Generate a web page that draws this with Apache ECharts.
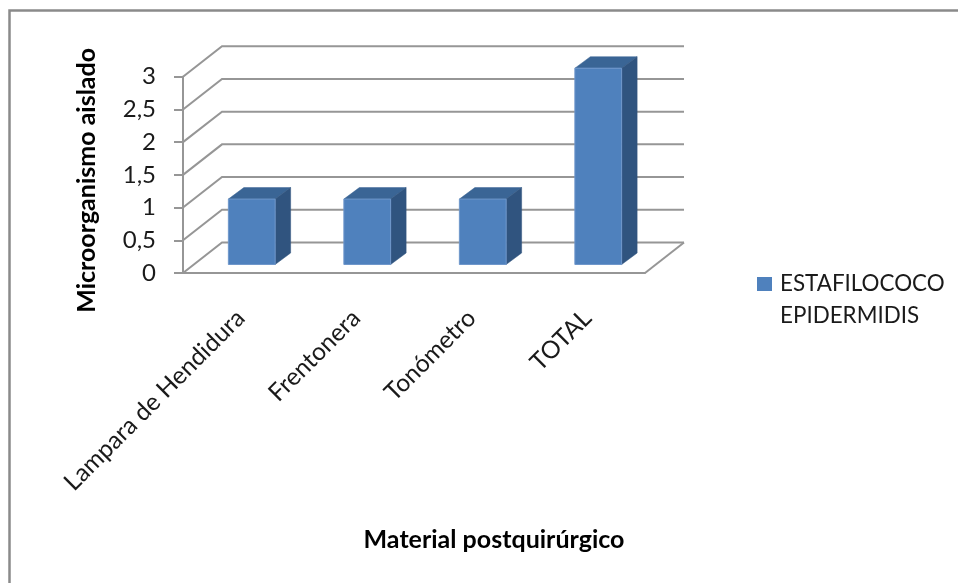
<!DOCTYPE html>
<html>
<head>
<meta charset="utf-8">
<style>html,body{margin:0;padding:0;background:#fff}#chart{width:958px;height:583px}</style>
<script src="https://cdn.jsdelivr.net/npm/echarts@6/dist/echarts.min.js"></script>
</head>
<body>
<div id="chart"></div>
<script>
const categories = ['Lampara de Hendidura', 'Frentonera', 'Tonómetro', 'TOTAL'];
const seriesName = 'ESTAFILOCOCO\nEPIDERMIDIS';
const seriesValues = [1, 1, 1, 3];
const wallTicks = [0, 0.5, 1, 1.5, 2, 2.5, 3];

const FONT = 'Lato, "Open Sans", sans-serif';
const WALL_DX = 39, WALL_DY = 30.5;   // oblique depth of the chart box
const BAR_DX = 15.5, BAR_DY = 11.5;   // oblique depth of one column
const BAR_SHIFT_DX = 11, BAR_SHIFT_DY = 8.5;   // columns stand inside the floor
const GRID_COLOR = '#969696';

function renderWall(params, api) {
  const value = api.value(0);
  const [mid, y] = api.coord([0, value]);
  const band = api.size([1, 0])[0];
  const x0 = mid - band / 2;
  const x1 = x0 + band * categories.length;
  const children = [{
    type: 'polyline',
    shape: { points: [[x0, y], [x0 + WALL_DX, y - WALL_DY], [x1 + WALL_DX, y - WALL_DY]] },
    style: { stroke: GRID_COLOR, lineWidth: 2, fill: null }
  }];
  if (value === 0) {
    children.push({
      type: 'line',
      shape: { x1: x1, y1: y, x2: x1 + WALL_DX, y2: y - WALL_DY },
      style: { stroke: GRID_COLOR, lineWidth: 2 }
    });
  }
  return { type: 'group', children };
}

function renderColumn(params, api) {
  const idx = api.value(0);
  const [cx, top] = api.coord([idx, api.value(1)]);
  const [, base] = api.coord([idx, 0]);
  const w = api.size([1, 0])[0] * 0.405;
  const l = cx - w / 2 + BAR_SHIFT_DX;
  const r = l + w;
  const t = top - BAR_SHIFT_DY;
  const b = base - BAR_SHIFT_DY;
  const poly = (points, fill) => ({ type: 'polygon', shape: { points }, style: { fill, stroke: fill, lineWidth: 0.5 } });
  return {
    type: 'group',
    children: [
      poly([[l, t], [l + BAR_DX, t - BAR_DY], [r + BAR_DX, t - BAR_DY], [r, t]], '#3a6595'),
      poly([[r, t], [r + BAR_DX, t - BAR_DY], [r + BAR_DX, b - BAR_DY], [r, b]], '#30547f'),
      { type: 'rect', shape: { x: l, y: t, width: w, height: b - t }, style: { fill: '#4f81bd', stroke: '#6f97cb', lineWidth: 1 } }
    ]
  };
}

const chart = echarts.init(document.getElementById('chart'), null, { renderer: 'canvas' });
chart.setOption({
  animation: false,
  backgroundColor: '#fff',
  textStyle: { fontFamily: FONT },
  graphic: [{
    type: 'rect', z: -1, silent: true,
    shape: { x: 9.5, y: 10.5, width: 960, height: 600 },
    style: { fill: 'none', stroke: '#8a8a8a', lineWidth: 2.5 }
  }],
  grid: { left: 183, top: 76.7, width: 462, height: 196.3 },
  legend: {
    left: 757, top: 268, orient: 'vertical', padding: 0,
    itemWidth: 15, itemHeight: 46, itemGap: 0,
    icon: 'path://M0 0H15V14H0Z M0 46H15V46H0Z',
    data: [seriesName],
    textStyle: { fontFamily: FONT, fontSize: 22.4, lineHeight: 32, color: '#1a1a1a', padding: [0, 0, 0, 3] }
  },
  xAxis: {
    type: 'category',
    data: categories,
    name: 'Material postquirúrgico',
    nameLocation: 'middle',
    nameGap: 254,
    nameMoveOverlap: false,
    nameTextStyle: { fontFamily: FONT, fontSize: 25, fontWeight: 'bold', color: '#000', padding: [0, 0, 0, 160] },
    axisLine: { lineStyle: { color: GRID_COLOR, width: 2 } },
    axisTick: { show: false },
    axisLabel: { rotate: 45, margin: 41, interval: 0, fontFamily: FONT, fontSize: 24.5, color: '#1a1a1a' }
  },
  yAxis: {
    type: 'value',
    min: 0, max: 3, interval: 0.5,
    name: 'Microorganismo aislado',
    nameLocation: 'middle',
    nameGap: 84,
    nameRotate: 90,
    nameMoveOverlap: false,
    nameTextStyle: { fontFamily: FONT, fontSize: 25, fontWeight: 'bold', color: '#000', padding: [0, 11, 0, 0] },
    splitLine: { show: false },
    axisLine: { show: true, lineStyle: { color: GRID_COLOR, width: 2 } },
    axisTick: { show: true, length: 9, lineStyle: { color: GRID_COLOR, width: 2 } },
    axisLabel: {
      margin: 27, fontFamily: FONT, fontSize: 24, color: '#1a1a1a',
      formatter: v => String(v).replace('.', ',')
    }
  },
  series: [
    {
      name: 'wall', type: 'custom', silent: true, z: 1,
      renderItem: renderWall,
      encode: { y: 0 },
      data: wallTicks.map(v => [v])
    },
    {
      name: seriesName, type: 'custom', z: 3,
      itemStyle: { color: '#4f81bd' },
      renderItem: renderColumn,
      encode: { x: 0, y: 1 },
      data: seriesValues.map((v, i) => [i, v])
    }
  ]
});
</script>
</body>
</html>
